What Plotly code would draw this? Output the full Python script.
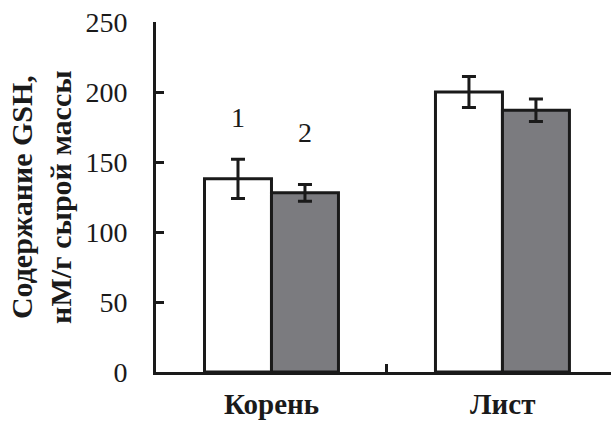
import plotly.graph_objects as go

categories = ["Корень", "Лист"]
series1 = [138, 200]
err1 = [14, 11]
series2 = [128, 187]
err2 = [6, 8]
yticks = [0, 50, 100, 150, 200, 250]
series_labels = ["1", "2"]
label_vals = [182, 171]

FONT = "Liberation Serif"
BARGAP = 0.42
bw = (1 - BARGAP) / 2
INK = "#1a1a1a"

fig = go.Figure()
fig.add_trace(go.Bar(
    x=[0, 1], y=series1, name="1",
    marker=dict(color="white", line=dict(color=INK, width=3)),
    error_y=dict(type="data", array=err1, color=INK, thickness=3, width=7),
))
fig.add_trace(go.Bar(
    x=[0, 1], y=series2, name="2",
    marker=dict(color="#7b7b7f", line=dict(color=INK, width=3)),
    error_y=dict(type="data", array=err2, color=INK, thickness=3, width=7),
))

for i, (t, v) in enumerate(zip(series_labels, label_vals)):
    fig.add_annotation(x=(i - 0.5) * bw, y=v, xref="x", yref="y", text=t,
                       showarrow=False, font=dict(family=FONT, size=28, color=INK))

for i, c in enumerate(categories):
    fig.add_annotation(x=i, y=0, xref="x", yref="y", yshift=-32, text="<b>%s</b>" % c,
                       showarrow=False, font=dict(family=FONT, size=29, color=INK))

fig.add_annotation(x=-0.253, y=125, xref="paper", yref="y", xanchor="center", yanchor="middle",
                   text="<b>Содержание GSH,<br>нМ/г сырой массы</b>", textangle=-90,
                   showarrow=False, font=dict(family=FONT, size=30, color=INK))

fig.update_layout(
    width=611, height=422,
    margin=dict(l=156, r=0, t=22, b=50),
    paper_bgcolor="white", plot_bgcolor="white",
    barmode="group", bargap=BARGAP, bargroupgap=0,
    showlegend=False,
    xaxis=dict(range=[-0.5, 1.47], tickvals=[-0.5, 0.5], ticktext=["", ""],
               ticks="inside", ticklen=8, tickwidth=3, tickcolor=INK,
               showline=True, linecolor=INK, linewidth=3, showgrid=False, zeroline=False),
    yaxis=dict(range=[0, 250], tickvals=yticks, ticks="inside", ticklen=8, tickwidth=3,
               tickcolor=INK, showline=True, linecolor=INK, linewidth=3,
               showgrid=False, zeroline=False, ticklabelstandoff=20,
               tickfont=dict(family=FONT, size=28, color=INK)),
)
fig.write_html("out.html", config={"displayModeBar": False},
               post_script="document.body.style.margin='0';")
